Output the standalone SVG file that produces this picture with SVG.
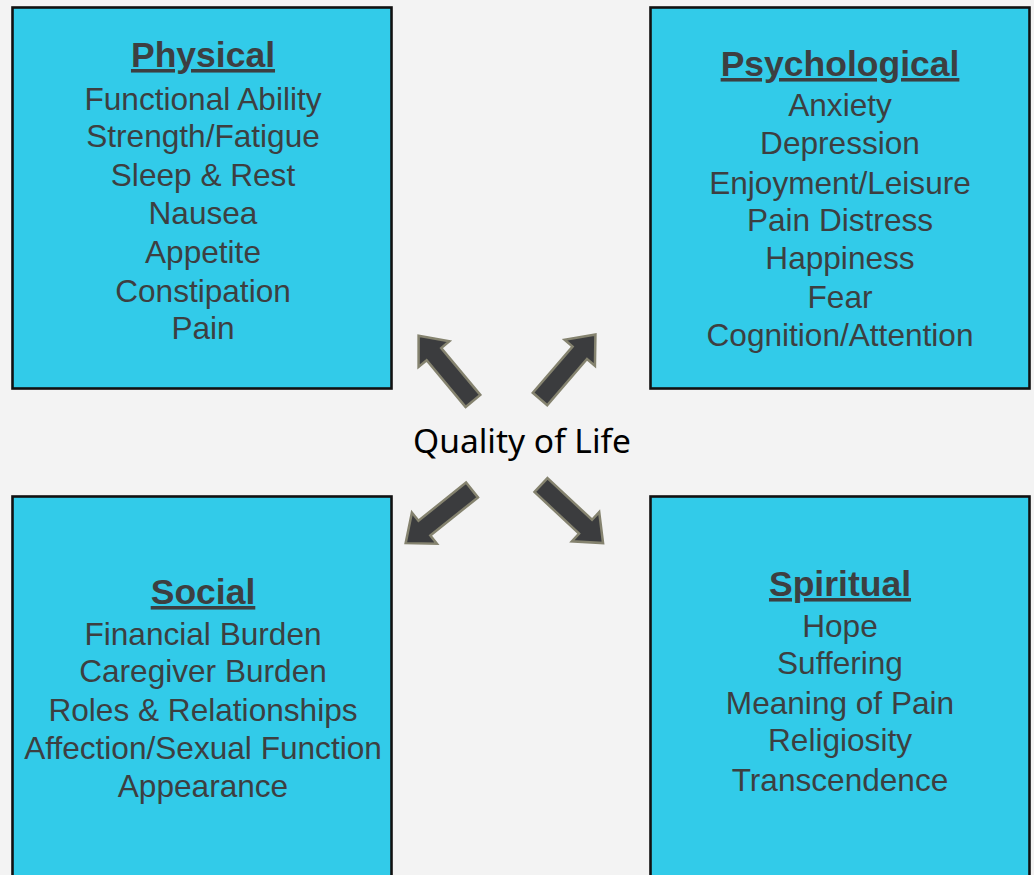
<svg xmlns="http://www.w3.org/2000/svg" width="1034" height="875" viewBox="0 0 1034 875">
  <style>
    .box { fill: #32cbe9; stroke: #111; stroke-width: 2.6; }
    .head { font-family: "Liberation Sans", Arial, sans-serif; font-size: 35.5px; font-weight: bold; fill: #3d3f41; text-anchor: middle; text-decoration: underline; }
    .item { font-family: "Liberation Sans", Arial, sans-serif; font-size: 31.6px; fill: #3d3f41; text-anchor: middle; }
    .center { font-family: "Noto Sans", "Open Sans", sans-serif; font-size: 33px; fill: #000; text-anchor: middle; }
    .arrow { fill: #3b3c3e; stroke: #85836f; stroke-width: 2.5; stroke-linejoin: miter; }
  </style>
  <defs>
    <!-- block arrow pointing along +x, tail at origin -->
    <path id="blockArrow" d="M0,-9.5 L61,-9.5 L61,-20 L85,0 L61,20 L61,9.5 L0,9.5 Z"/>
  </defs>

  <rect width="1034" height="875" fill="#f3f3f3"/>

  <g id="physical">
    <rect class="box" x="12.5" y="7.5" width="379" height="381"/>
    <text class="head" x="203" y="67">Physical</text>
    <text class="item" x="203" y="110">Functional Ability</text>
    <text class="item" x="203" y="147">Strength/Fatigue</text>
    <text class="item" x="203" y="186">Sleep &amp; Rest</text>
    <text class="item" x="203" y="224">Nausea</text>
    <text class="item" x="203" y="263">Appetite</text>
    <text class="item" x="203" y="302">Constipation</text>
    <text class="item" x="203" y="339">Pain</text>
  </g>

  <g id="psychological">
    <rect class="box" x="650.5" y="7.5" width="379" height="381"/>
    <text class="head" x="840" y="76">Psychological</text>
    <text class="item" x="840" y="116">Anxiety</text>
    <text class="item" x="840" y="154">Depression</text>
    <text class="item" x="840" y="194">Enjoyment/Leisure</text>
    <text class="item" x="840" y="231">Pain Distress</text>
    <text class="item" x="840" y="269">Happiness</text>
    <text class="item" x="840" y="308">Fear</text>
    <text class="item" x="840" y="346">Cognition/Attention</text>
  </g>

  <g id="social">
    <rect class="box" x="12.5" y="496.5" width="379" height="390"/>
    <text class="head" x="203" y="604">Social</text>
    <text class="item" x="203" y="645">Financial Burden</text>
    <text class="item" x="203" y="682">Caregiver Burden</text>
    <text class="item" x="203" y="721">Roles &amp; Relationships</text>
    <text class="item" x="203" y="759">Affection/Sexual Function</text>
    <text class="item" x="203" y="797">Appearance</text>
  </g>

  <g id="spiritual">
    <rect class="box" x="650.5" y="496.5" width="379" height="390"/>
    <text class="head" x="840" y="596">Spiritual</text>
    <text class="item" x="840" y="637">Hope</text>
    <text class="item" x="840" y="674">Suffering</text>
    <text class="item" x="840" y="714">Meaning of Pain</text>
    <text class="item" x="840" y="751">Religiosity</text>
    <text class="item" x="840" y="791">Transcendence</text>
  </g>

  <g id="quality-of-life">
    <text class="center" x="522" y="453" textLength="218" lengthAdjust="spacingAndGlyphs">Quality of Life</text>
  </g>

  <g id="connectors">
    <use href="#blockArrow" class="arrow" transform="translate(473,401) rotate(-129.8)"/>
    <use href="#blockArrow" class="arrow" transform="translate(540,399) rotate(-49.3)"/>
    <use href="#blockArrow" class="arrow" transform="translate(472,490) rotate(141.3)"/>
    <use href="#blockArrow" class="arrow" transform="translate(541,485) rotate(43.1)"/>
  </g>
</svg>
